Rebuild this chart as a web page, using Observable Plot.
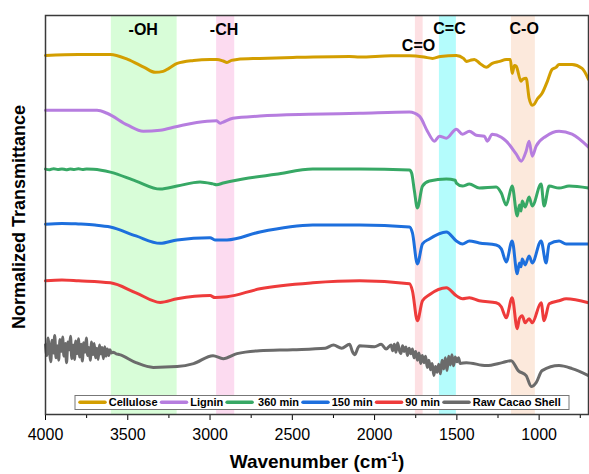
<!DOCTYPE html>
<html>
<head>
<meta charset="utf-8">
<script src="https://cdn.jsdelivr.net/npm/d3@7"></script>
<script src="https://cdn.jsdelivr.net/npm/@observablehq/plot@0.6"></script>
<style>
  html, body { margin: 0; padding: 0; background: white; }
  #chart { width: 589px; height: 474px; }
</style>
</head>
<body>
<div id="chart"></div>
<script>
// ---- Data (wavenumber cm-1, normalized transmittance, offset per series) ----
const seriesNames = ["Cellulose", "Lignin", "360 min", "150 min", "90 min", "Raw Cacao Shell"];
const seriesColors = ["#d39e00", "#b67ddf", "#37a865", "#1d6fdd", "#ee3b3b", "#6b6b6b"];

const cellulose = [[4000,90.0],[3800,90.25],[3606,90.25],[3500,89.0],[3400,87.0],[3333,85.75],[3285,86.0],[3250,86.75],[3200,88.0],[3100,88.75],[3000,89.0],[2958,89.0],[2920,88.6],[2897,88.25],[2870,88.75],[2836,89.0],[2700,89.25],[2497,89.5],[2152,89.75],[2091,89.6],[1900,89.9],[1788,89.9],[1700,89.6],[1648,89.25],[1600,89.75],[1503,90.0],[1460,89.25],[1442,88.5],[1420,88.75],[1394,89.0],[1360,88.0],[1321,87.0],[1285,88.0],[1240,88.5],[1200,89.0],[1175,89.0],[1164,85.5],[1150,87.5],[1139,87.25],[1110,83.5],[1100,84.0],[1079,84.25],[1061,79.25],[1042,77.5],[1030,77.75],[1012,79.0],[982,80.5],[950,83.5],[921,86.5],[897,87.0],[879,87.75],[800,87.75],[739,86.75],[700,84.0]];

const lignin = [[4000,76.25],[3800,76.25],[3687,76.25],[3626,75.5],[3500,72.5],[3406,71.0],[3303,71.25],[3200,72.2],[3018,73.5],[2960,73.6],[2939,73.0],[2920,73.3],[2861,74.25],[2697,74.8],[2400,75.25],[2091,75.5],[1788,75.8],[1727,74.75],[1679,71.0],[1636,68.5],[1606,69.75],[1564,69.25],[1503,71.5],[1466,70.25],[1424,71.0],[1382,70.0],[1333,69.75],[1315,68.5],[1285,70.25],[1230,69.5],[1200,68.5],[1139,65.25],[1109,63.5],[1079,66.0],[1061,68.5],[1042,64.75],[1018,67.25],[958,69.75],[879,71.0],[800,70.25],[700,67.0]];

const min360 = [[4000,61.5],[3975,61.35],[3950,61.6],[3925,61.4],[3900,61.55],[3875,61.35],[3850,61.5],[3825,61.4],[3800,61.6],[3775,61.4],[3750,61.5],[3709,61.45],[3606,60.75],[3450,58.5],[3303,56.5],[3200,57.25],[3061,58.3],[2982,57.8],[2960,57.6],[2920,58.0],[2800,59.0],[2600,60.2],[2376,61.5],[2091,61.5],[1788,61.25],[1775,60.5],[1758,56.0],[1740,51.75],[1709,57.25],[1667,58.5],[1564,59.0],[1510,58.7],[1503,58.0],[1466,57.25],[1424,57.75],[1364,56.75],[1261,57.0],[1230,55.5],[1200,52.5],[1164,57.25],[1133,49.75],[1120,52.5],[1110,51.0],[1103,53.5],[1085,52.0],[1061,54.5],[1042,52.25],[988,57.75],[970,52.25],[939,57.25],[879,56.75],[818,57.25],[700,56.75]];

const min150 = [[4000,47.7],[3900,47.9],[3800,47.75],[3700,47.5],[3606,47.0],[3450,44.75],[3303,42.9],[3200,43.75],[3000,44.3],[2970,43.75],[2897,43.75],[2697,45.75],[2376,47.5],[2091,47.5],[1788,47.0],[1770,45.5],[1740,37.75],[1709,42.75],[1667,44.0],[1564,45.75],[1503,43.5],[1466,42.75],[1424,43.5],[1364,43.0],[1261,42.5],[1230,41.5],[1200,38.25],[1164,43.5],[1133,35.25],[1120,38.0],[1110,37.0],[1103,39.0],[1085,37.5],[1061,39.75],[1042,38.0],[988,43.5],[958,38.0],[939,42.75],[879,43.5],[836,42.75],[700,42.75]];

const min90 = [[4000,33.5],[3900,33.7],[3800,33.5],[3606,33.0],[3450,30.5],[3303,28.1],[3200,29.0],[3000,29.8],[2970,29.3],[2897,29.5],[2697,31.5],[2376,33.0],[2091,33.5],[1788,32.75],[1770,31.0],[1740,23.5],[1709,28.5],[1667,30.0],[1564,31.75],[1503,29.75],[1466,29.0],[1424,29.25],[1364,28.5],[1261,28.0],[1230,27.0],[1200,24.25],[1164,29.25],[1133,21.5],[1120,24.0],[1103,24.75],[1085,23.0],[1061,24.0],[1042,23.0],[988,28.0],[970,23.5],[939,27.75],[879,28.5],[836,29.0],[700,28.0]];

const rawShell = [[4000,17.5],[3992,14.8],[3984,19.2],[3976,16.0],[3968,13.2],[3960,18.6],[3952,15.4],[3944,19.8],[3936,14.2],[3928,17.2],[3920,13.6],[3912,18.8],[3904,15.8],[3896,19.4],[3888,14.6],[3880,17.8],[3872,13.0],[3864,18.2],[3856,16.2],[3848,19.6],[3840,14.0],[3832,17.4],[3824,13.8],[3816,18.4],[3808,15.2],[3800,19.0],[3792,14.4],[3784,17.6],[3776,13.4],[3768,18.0],[3760,15.6],[3752,19.2],[3744,14.8],[3736,16.8],[3728,13.6],[3720,18.2],[3712,15.0],[3704,17.8],[3696,14.2],[3688,16.6],[3680,13.8],[3672,17.4],[3664,15.2],[3656,16.8],[3648,14.0],[3640,17.0],[3632,14.6],[3624,16.4],[3616,14.8],[3608,16.2],[3600,15.4],[3590,15.6],[3570,15.2],[3550,15.0],[3450,13.0],[3345,11.8],[3200,12.0],[3100,12.75],[2982,14.75],[2920,14.0],[2836,15.25],[2700,16.0],[2497,16.25],[2300,16.6],[2250,17.4],[2200,16.6],[2152,17.6],[2135,15.8],[2120,15.0],[2100,16.8],[2091,17.25],[2000,17.0],[1960,17.6],[1930,16.4],[1900,17.4],[1890,16.0],[1880,17.6],[1870,15.6],[1860,17.9],[1850,16.2],[1840,15.3],[1830,17.2],[1820,15.8],[1810,16.9],[1800,14.8],[1790,16.6],[1780,15.2],[1770,16.4],[1760,14.2],[1750,15.8],[1740,13.6],[1730,15.4],[1720,12.8],[1710,14.8],[1700,13.0],[1690,14.6],[1680,11.8],[1670,13.6],[1660,11.2],[1650,12.8],[1640,9.8],[1630,12.0],[1620,10.6],[1610,12.6],[1600,10.2],[1590,13.6],[1580,11.4],[1570,14.2],[1560,11.0],[1550,14.6],[1540,12.4],[1530,15.0],[1520,12.2],[1510,14.4],[1500,13.2],[1490,14.2],[1480,12.8],[1442,13.0],[1321,12.25],[1224,13.0],[1170,13.5],[1127,11.0],[1079,9.75],[1048,7.0],[1018,8.0],[982,11.0],[879,12.25],[800,11.5],[700,9.75]];

const seriesData = [cellulose, lignin, min360, min150, min90, rawShell];

// Highlighted bands
const bandLabels = ["-OH", "-CH", "C=O", "C=C", "C-O"];
const bandStart = [3600, 2960, 1752, 1606, 1168];
const bandEnd = [3200, 2850, 1705, 1503, 1023];
const bandColors = ["#d8fdd8", "#fcdbf0", "#fde0e3", "#b4fcfc", "#fce9dc"];
const bandLabelX = [3406, 2915, 1733, 1545, 1091];
const bandLabelY = [95, 95, 91, 95.3, 95.3];

const xTicks = [4000, 3500, 3000, 2500, 2000, 1500, 1000];
const xMinorTicks = [3750, 3250, 2750, 2250, 1750, 1250, 750];

// ---- Build tables ----
const rows = seriesData.flatMap((arr, i) => arr.map(([wn, t]) => ({series: seriesNames[i], wn, t})));
const bands = bandLabels.map((label, i) => ({label, x1: bandStart[i], x2: bandEnd[i], color: bandColors[i], lx: bandLabelX[i], ly: bandLabelY[i]}));

const FONT = "'Liberation Sans', Arial, Helvetica, sans-serif";

const chart = Plot.plot({
  width: 589,
  height: 474,
  marginLeft: 45,
  marginRight: 1,
  marginTop: 15,
  marginBottom: 60,
  style: {fontFamily: FONT, background: "white", color: "black"},
  x: {domain: [4000, 700]},
  y: {domain: [0, 100], axis: null},
  color: {domain: seriesNames, range: seriesColors},
  marks: [
    Plot.rect(bands, {x1: "x1", x2: "x2", fill: d => d.color}),
    Plot.line(rows, {x: "wn", y: "t", z: "series", stroke: "series", strokeWidth: 3, curve: "monotone-x", strokeLinejoin: "round", strokeLinecap: "round"}),
    Plot.text(bands, {x: "lx", y: "ly", text: "label", fontSize: 16, fontWeight: "bold", fill: "black", textAnchor: "middle", lineAnchor: "bottom"}),
    Plot.axisX(xMinorTicks, {tickSize: 4, text: null, stroke: "black", strokeWidth: 1}),
    Plot.axisX(xTicks, {tickSize: 6, tickPadding: 8, fontSize: 16, tickFormat: d3.format("d"), stroke: "black", strokeWidth: 1, label: null, fill: "black"}),
    Plot.frame({stroke: "#3a3a3a", strokeWidth: 1.5})
  ]
});

document.getElementById("chart").appendChild(chart);

// ---- Titles and legend ----
const svg = d3.select(chart);

svg.append("text")
  .attr("transform", "translate(25,217) rotate(-90)")
  .attr("text-anchor", "middle")
  .attr("font-family", FONT)
  .attr("font-weight", "bold")
  .attr("font-size", 18)
  .attr("fill", "black")
  .text("Normalized Transmittance");

const title = svg.append("text")
  .attr("x", 317)
  .attr("y", 468)
  .attr("text-anchor", "middle")
  .attr("font-family", FONT)
  .attr("font-weight", "bold")
  .attr("font-size", 19)
  .attr("fill", "black");
title.append("tspan").text("Wavenumber (cm");
title.append("tspan").attr("dy", -7).attr("font-size", 12).text("-1");
title.append("tspan").attr("dy", 7).text(")");

// legend (flow layout: swatch, label, swatch, label ...)
const lg = svg.append("g");
lg.append("rect")
  .attr("x", 75).attr("y", 395.5).attr("width", 494).attr("height", 14)
  .attr("fill", "white").attr("stroke", "#777").attr("stroke-width", 1);
let lx = 78.5;
seriesNames.forEach((name, i) => {
  lg.append("line")
    .attr("x1", lx + 1.5).attr("x2", lx + 26.5)
    .attr("y1", 402.2).attr("y2", 402.2)
    .attr("stroke", seriesColors[i]).attr("stroke-width", 3.5).attr("stroke-linecap", "round");
  lx += 28 + (name === "360 min" ? 4.5 : 2.2);
  const t = lg.append("text")
    .attr("x", lx).attr("y", 406.3)
    .attr("text-anchor", "start")
    .attr("font-family", FONT).attr("font-weight", "bold").attr("font-size", 11)
    .attr("fill", "black")
    .text(name);
  lx += t.node().getComputedTextLength() + 2.4;
});
</script>
</body>
</html>
